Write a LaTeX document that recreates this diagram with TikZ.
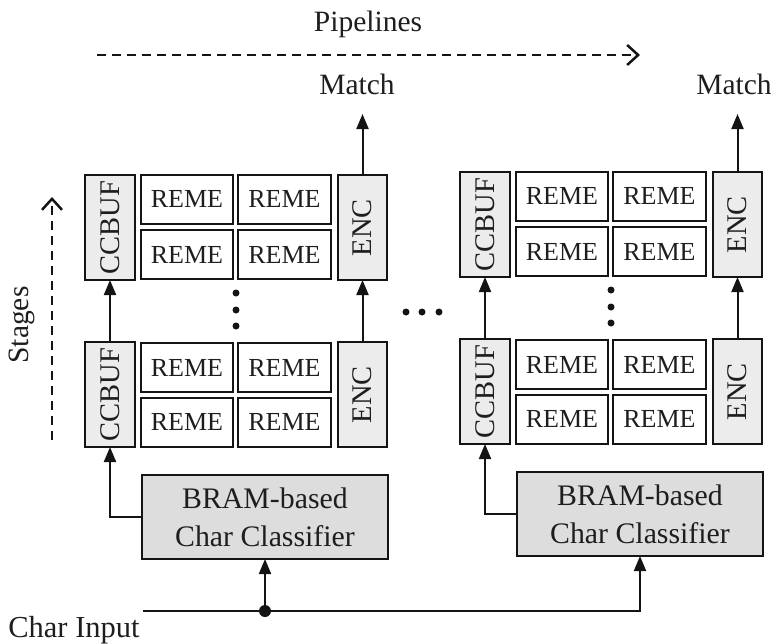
\documentclass[tikz,border=0pt]{standalone}
\usepackage{fontspec}
\setmainfont{Liberation Serif}
\usetikzlibrary{arrows.meta}
\definecolor{ink}{RGB}{20,20,20}
\definecolor{txt}{RGB}{30,30,30}
\definecolor{unitfill}{RGB}{236,236,236}
\definecolor{clsfill}{RGB}{221,221,221}

% One pipeline: two stages of CCBUF / REME array / ENC, plus its classifier.
% #1 name prefix, (#2,#3) top-left corner of the upper CCBUF
\newcommand\drawpipe[3]{%
\begin{scope}[shift={(#2,#3)}]
  % upper stage
  \node[unit, minimum width=50pt, minimum height=105pt] (#1cc2) at (25,52.5) {\rotatebox{90}{CCBUF}};
  \node[reme, minimum width=92pt] (#1ra) at (102,24) {REME};
  \node[reme, minimum width=93pt] (#1rb) at (199.5,24) {REME};
  \node[reme, minimum width=92pt] (#1rc) at (102,79.5) {REME};
  \node[reme, minimum width=93pt] (#1rd) at (199.5,79.5) {REME};
  \node[unit, minimum width=49pt, minimum height=105pt] (#1en2) at (277.5,52.5) {\rotatebox{90}{ENC}};
  % lower stage
  \node[unit, minimum width=50pt, minimum height=105pt] (#1cc1) at (25,219.5) {\rotatebox{90}{CCBUF}};
  \node[reme, minimum width=92pt] (#1re) at (102,192.5) {REME};
  \node[reme, minimum width=93pt] (#1rf) at (199.5,192.5) {REME};
  \node[reme, minimum width=92pt] (#1rg) at (102,247) {REME};
  \node[reme, minimum width=93pt] (#1rh) at (199.5,247) {REME};
  \node[unit, minimum width=49pt, minimum height=105pt] (#1en1) at (277.5,219.5) {\rotatebox{90}{ENC}};
  % stages in between
  \foreach \dy in {118,135,151} \fill[ink] (151,\dy) circle (3.5pt);
  % character classifier
  \node[cls] (#1cls) at (180,342) {BRAM-based\\Char Classifier};
  \draw[arr] (#1cc1.north) -- (#1cc2.south);
  \draw[arr] (#1en1.north) -- (#1en2.south);
  \draw[arr] (#1cls.west) -| (#1cc1.south);
\end{scope}}

\begin{document}
\begin{tikzpicture}[x=1pt,y=-1pt,
  box/.style={draw=ink, line width=2pt, inner sep=0pt, outer sep=0pt, text=txt},
  reme/.style={box, fill=white, minimum height=49pt, font=\fontsize{26}{28}\selectfont},
  unit/.style={box, fill=unitfill, font=\fontsize{28.5}{30}\selectfont},
  cls/.style={box, fill=clsfill, minimum width=246pt, minimum height=84pt, align=center,
              font=\fontsize{29.8}{38}\selectfont},
  lbl/.style={text=txt, inner sep=0pt, font=\fontsize{29.5}{31}\selectfont},
  arr/.style={draw=ink, line width=2pt, -{Triangle[length=15pt,width=12pt]}},
  dasharr/.style={draw=ink, line width=2pt, dash pattern=on 9pt off 6pt,
                  -{Straight Barb[length=11pt,width=20pt,line width=2.5pt]}}]
\useasboundingbox (0,0) rectangle (771,643);

\drawpipe{L}{85}{175}
\drawpipe{R}{460}{172}

% pipeline direction
\node[lbl, anchor=base] (pipe) at (368,31) {Pipelines};
\coordinate (pipeS) at (97,55);
\coordinate (pipeE) at (640,55);
\draw[dasharr] (pipeS) -- (pipeE);

% stage direction
\node[lbl, rotate=90] (stg) at (22,325) {Stages};
\coordinate (stgS) at (52,440);
\coordinate (stgE) at (52,197);
\draw[dasharr] (stgS) -- (stgE);

% match outputs
\node[lbl, anchor=base] (mL) at (357,94) {Match};
\node[lbl, anchor=base] (mR) at (734,94) {Match};
\coordinate (tipL) at (362.5,114);
\coordinate (tipR) at (737.5,114);
\draw[arr] (Len2.north) -- (tipL);
\draw[arr] (Ren2.north) -- (tipR);

% more pipelines
\foreach \x in {406,422,439} \fill[ink] (\x,312) circle (3.5pt);

% character input bus
\node[lbl, anchor=base, font=\fontsize{30.5}{32}\selectfont] (cin) at (74,637) {Char Input};
\coordinate (busS) at (143,611);
\coordinate (busJ) at (265,611);
\draw[arr] (busS) -| (Rcls.south);
\draw[arr] (busJ) -- (Lcls.south);
\fill[ink] (busJ) circle (6pt);
\end{tikzpicture}
\end{document}
